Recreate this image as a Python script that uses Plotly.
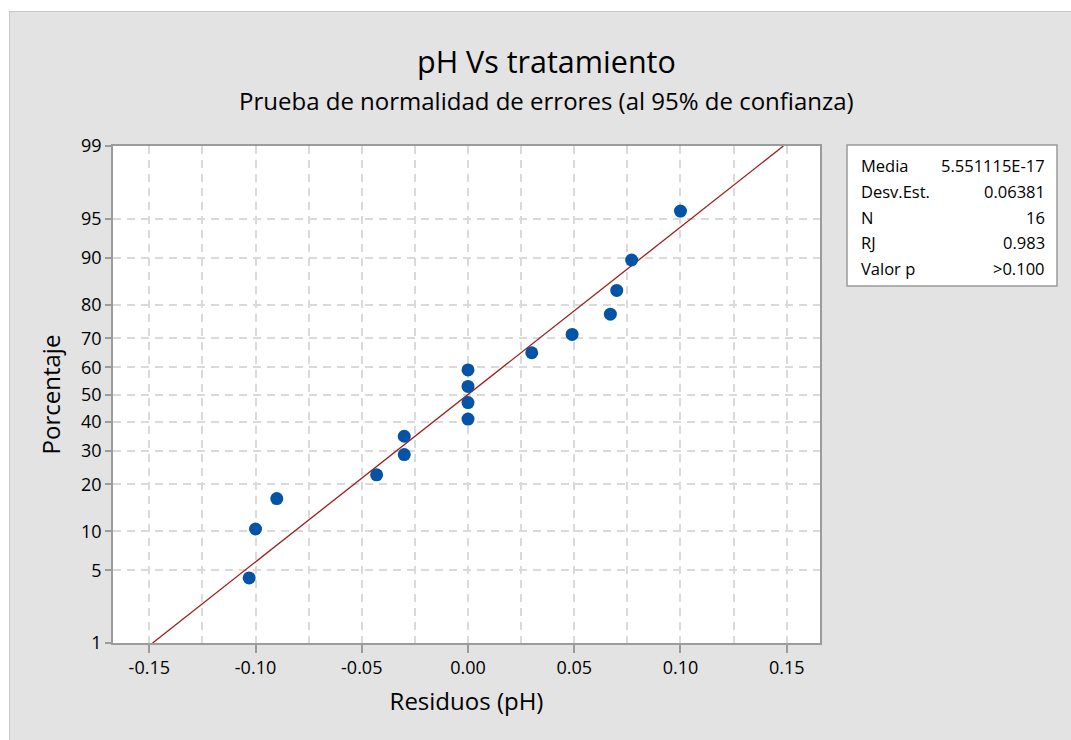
import plotly.graph_objects as go
from statistics import NormalDist

# Residuals (pH) and their plotted percentages
RESIDUOS = [-0.103, -0.100, -0.090, -0.043, -0.030, -0.030, 0.000, 0.000,
            0.000, 0.000, 0.030, 0.049, 0.067, 0.070, 0.077, 0.100]
PORCENTAJE = [4.3, 10.4, 16.5, 22.6, 28.7, 34.8, 40.9, 47.0,
              53.0, 59.1, 65.2, 71.3, 77.4, 83.5, 89.6, 95.7]

# Summary statistics shown in the side box
MEDIA = 5.551115e-17
DESV_EST = 0.06381
N = 16
RJ = 0.983
VALOR_P = ">0.100"

# Axis ticks
PCT_TICKS = [1, 5, 10, 20, 30, 40, 50, 60, 70, 80, 90, 95, 99]
X_TICKS = [-0.15, -0.10, -0.05, 0.0, 0.05, 0.10, 0.15]
X_TICK_TEXT = ["-0.15", "-0.10", "-0.05", "0.00", "0.05", "0.10", "0.15"]

W, H = 1071, 740
L, R, T, B = 113, 820, 146, 643  # plot area edges in pixels

FONT = "Open Sans, Noto Sans, DejaVu Sans, sans-serif"
GRID = "#dadada"
AXIS = "#9b9b9b"

nd = NormalDist()


def zq(p):
    """Normal quantile for a percentage (probability-scale axis)."""
    return nd.inv_cdf(p / 100.0)


def px_x(px):
    return (px - L) / (R - L)


def px_y(py):
    return (B - py) / (B - T)


fig = go.Figure()

# Fitted normal line from the mean and standard deviation
line_z = [zq(PCT_TICKS[0]), zq(PCT_TICKS[-1])]
fig.add_trace(go.Scatter(
    x=[MEDIA + z * DESV_EST for z in line_z], y=line_z,
    mode="lines", line=dict(color="#a01c1c", width=1.3),
    hoverinfo="skip", showlegend=False,
))

# Residual points
fig.add_trace(go.Scatter(
    x=RESIDUOS, y=[zq(p) for p in PORCENTAJE],
    mode="markers", marker=dict(color="#0553a6", size=13, line=dict(width=0)),
    showlegend=False,
))

shapes = [
    # white margin strips at the top and left edges
    dict(type="rect", xref="paper", yref="paper",
         x0=px_x(0), x1=px_x(W), y0=px_y(11), y1=px_y(0),
         fillcolor="white", line=dict(width=0), layer="below"),
    dict(type="rect", xref="paper", yref="paper",
         x0=px_x(0), x1=px_x(9), y0=px_y(W), y1=px_y(0),
         fillcolor="white", line=dict(width=0), layer="below"),
    dict(type="line", xref="paper", yref="paper",
         x0=px_x(9), x1=px_x(W), y0=px_y(11.5), y1=px_y(11.5),
         line=dict(color="#c8c8c8", width=1), layer="below"),
    dict(type="line", xref="paper", yref="paper",
         x0=px_x(9.5), x1=px_x(9.5), y0=px_y(H), y1=px_y(11),
         line=dict(color="#c8c8c8", width=1), layer="below"),
    # statistics box
    dict(type="rect", xref="paper", yref="paper",
         x0=px_x(847), x1=px_x(1057), y0=px_y(286), y1=px_y(145),
         fillcolor="white", line=dict(color=AXIS, width=1.5)),
]

annotations = [
    dict(text="pH Vs tratamiento", xref="paper", yref="paper",
         x=px_x(546), y=px_y(61), xanchor="center", yanchor="middle",
         showarrow=False, font=dict(family=FONT, size=30.5, color="black")),
    dict(text="Prueba de normalidad de errores (al 95% de confianza)",
         xref="paper", yref="paper", x=px_x(546), y=px_y(100),
         xanchor="center", yanchor="middle", showarrow=False,
         font=dict(family=FONT, size=24, color="black")),
]

stat_labels = ["Media", "Desv.Est.", "N", "RJ", "Valor p"]
stat_values = [f"{MEDIA:.6E}", f"{DESV_EST:.5f}", f"{N}", f"{RJ:.3f}", VALOR_P]
row_y = [165, 191, 217, 243, 268]
for lab, val, ry in zip(stat_labels, stat_values, row_y):
    annotations.append(dict(text=lab, xref="paper", yref="paper",
                            x=px_x(859), y=px_y(ry), xanchor="left",
                            yanchor="middle", showarrow=False,
                            font=dict(family=FONT, size=16.5, color="black")))
    annotations.append(dict(text=val, xref="paper", yref="paper",
                            x=px_x(1047), y=px_y(ry), xanchor="right",
                            yanchor="middle", showarrow=False,
                            font=dict(family=FONT, size=16.5, color="black")))

fig.update_layout(
    width=W, height=H,
    margin=dict(l=L, r=W - R, t=T, b=H - B, autoexpand=False),
    paper_bgcolor="#e3e3e3", plot_bgcolor="white",
    font=dict(family=FONT, color="black"),
    shapes=shapes, annotations=annotations,
    showlegend=False,
)

fig.update_xaxes(
    range=[-0.16708, 0.16567],
    tickvals=X_TICKS, ticktext=X_TICK_TEXT,
    ticks="outside", ticklen=8, tickwidth=1.5, tickcolor=AXIS,
    tickfont=dict(family=FONT, size=18, color="black"),
    showline=True, linecolor=AXIS, linewidth=1.5, mirror=True,
    showgrid=True, gridcolor=GRID, gridwidth=1.5, griddash="8px,6px",
    minor=dict(dtick=0.025, tick0=0, showgrid=True, gridcolor=GRID,
               gridwidth=1.5, griddash="8px,6px", ticks=""),
    zeroline=False,
    title=dict(text="Residuos (pH)", standoff=15,
               font=dict(family=FONT, size=24, color="black")),
)

fig.update_yaxes(
    range=[zq(PCT_TICKS[0]), zq(PCT_TICKS[-1])],
    tickvals=[zq(p) for p in PCT_TICKS], ticktext=[str(p) for p in PCT_TICKS],
    ticks="outside", ticklen=6, tickwidth=1.5, tickcolor=AXIS,
    tickfont=dict(family=FONT, size=18, color="black"),
    showline=True, linecolor=AXIS, linewidth=1.5, mirror=True,
    showgrid=True, gridcolor=GRID, gridwidth=1.5, griddash="8px,6px",
    zeroline=False,
    title=dict(text="Porcentaje", standoff=14,
               font=dict(family=FONT, size=24, color="black")),
)

fig.write_html("out.html")
